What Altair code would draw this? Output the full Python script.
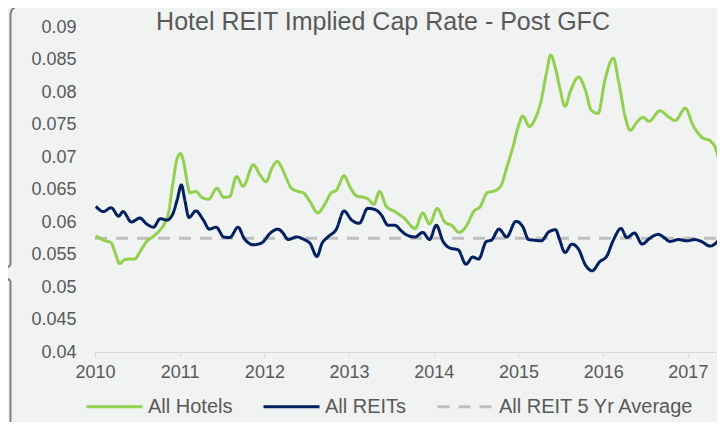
import altair as alt
import pandas as pd

# ---- data ----
hotel_t = [2010.01, 2010.10, 2010.19, 2010.24, 2010.29, 2010.35, 2010.41, 2010.47, 2010.53, 2010.61,
           2010.69, 2010.75, 2010.81, 2010.87, 2010.92, 2010.97, 2011.01, 2011.05, 2011.09, 2011.12,
           2011.19, 2011.26, 2011.34, 2011.44, 2011.52, 2011.59, 2011.67, 2011.75, 2011.87, 2011.95,
           2012.02, 2012.09, 2012.15, 2012.20, 2012.26, 2012.32, 2012.40, 2012.46, 2012.54, 2012.63,
           2012.72, 2012.79, 2012.85, 2012.94, 2013.01, 2013.09, 2013.17, 2013.23, 2013.29, 2013.36,
           2013.44, 2013.54, 2013.65, 2013.78, 2013.87, 2013.95, 2014.04, 2014.13, 2014.21, 2014.30,
           2014.39, 2014.47, 2014.55, 2014.63, 2014.72, 2014.79, 2014.86, 2014.94, 2015.00, 2015.05,
           2015.13, 2015.19, 2015.26, 2015.33, 2015.38, 2015.43, 2015.49, 2015.55, 2015.61, 2015.71,
           2015.79, 2015.86, 2015.94, 2016.02, 2016.12, 2016.18, 2016.26, 2016.32, 2016.40, 2016.47,
           2016.54, 2016.67, 2016.77, 2016.85, 2016.97, 2017.06, 2017.16, 2017.27, 2017.32, 2017.37,
           2017.40, 2017.44]
hotel_v = [0.0579, 0.0572, 0.0568, 0.0552, 0.0536, 0.0542, 0.0543, 0.0543, 0.0554, 0.0570,
           0.0578, 0.0585, 0.0595, 0.0616, 0.0660, 0.0698, 0.0705, 0.0690, 0.0660, 0.0645,
           0.0647, 0.0638, 0.0635, 0.0652, 0.0638, 0.0639, 0.0670, 0.0655, 0.0688, 0.0672,
           0.0662, 0.0683, 0.0693, 0.0685, 0.0667, 0.0652, 0.0647, 0.0645, 0.0631, 0.0614,
           0.0629, 0.0645, 0.0649, 0.0671, 0.0654, 0.0640, 0.0638, 0.0635, 0.0627, 0.0647,
           0.0624, 0.0616, 0.0606, 0.0590, 0.0614, 0.0597, 0.0621, 0.0600, 0.0595, 0.0584,
           0.0595, 0.0616, 0.0624, 0.0645, 0.0648, 0.0655, 0.0683, 0.0718, 0.0748, 0.0763,
           0.0747, 0.0757, 0.0783, 0.0829, 0.0857, 0.0840, 0.0805, 0.0778, 0.0800, 0.0823,
           0.0803, 0.0772, 0.0767, 0.0818, 0.0852, 0.0818, 0.0762, 0.0741, 0.0754, 0.0761,
           0.0755, 0.0771, 0.0762, 0.0756, 0.0775, 0.0749, 0.0731, 0.0724, 0.0716, 0.0698,
           0.0711, 0.0749]

reit_t = [2010.01, 2010.10, 2010.19, 2010.28, 2010.33, 2010.43, 2010.53, 2010.61, 2010.69, 2010.77,
          2010.85, 2010.92, 2010.97, 2011.02, 2011.06, 2011.11, 2011.19, 2011.28, 2011.35, 2011.43,
          2011.52, 2011.59, 2011.69, 2011.76, 2011.87, 2011.97, 2012.07, 2012.16, 2012.22, 2012.28,
          2012.38, 2012.47, 2012.54, 2012.62, 2012.68, 2012.75, 2012.85, 2012.94, 2013.03, 2013.12,
          2013.22, 2013.31, 2013.38, 2013.46, 2013.54, 2013.62, 2013.68, 2013.78, 2013.87, 2013.95,
          2014.03, 2014.11, 2014.19, 2014.29, 2014.38, 2014.46, 2014.53, 2014.62, 2014.68, 2014.77,
          2014.86, 2014.97, 2015.05, 2015.12, 2015.19, 2015.27, 2015.36, 2015.44, 2015.48, 2015.55,
          2015.63, 2015.71, 2015.79, 2015.87, 2015.96, 2016.04, 2016.12, 2016.21, 2016.28, 2016.37,
          2016.46, 2016.55, 2016.65, 2016.71, 2016.79, 2016.89, 2016.99, 2017.08, 2017.16, 2017.26,
          2017.36, 2017.43]
reit_v = [0.0624, 0.0616, 0.0622, 0.0609, 0.0616, 0.0600, 0.0606, 0.0597, 0.0592, 0.0605,
          0.0603, 0.0613, 0.0634, 0.0657, 0.0634, 0.0607, 0.0617, 0.0603, 0.0589, 0.0592,
          0.0577, 0.0576, 0.0592, 0.0575, 0.0565, 0.0568, 0.0583, 0.0589, 0.0583, 0.0573,
          0.0577, 0.0573, 0.0567, 0.0547, 0.0567, 0.0577, 0.0589, 0.0617, 0.0603, 0.0598,
          0.0621, 0.0619, 0.0611, 0.0595, 0.0595, 0.0586, 0.0580, 0.0577, 0.0584, 0.0573,
          0.0595, 0.0570, 0.0560, 0.0557, 0.0535, 0.0546, 0.0543, 0.0570, 0.0572, 0.0589,
          0.0577, 0.0601, 0.0593, 0.0573, 0.0572, 0.0571, 0.0585, 0.0588, 0.0575, 0.0553,
          0.0566, 0.0558, 0.0534, 0.0525, 0.0539, 0.0547, 0.0572, 0.0590, 0.0576, 0.0583,
          0.0566, 0.0575, 0.0581, 0.0577, 0.0570, 0.0573, 0.0571, 0.0573, 0.0570, 0.0563,
          0.0572, 0.0598]

avg_t = [2010.0, 2017.5]
avg_v = [0.0575, 0.0575]

series_names = ["All Hotels", "All REITs", "All REIT 5 Yr Average"]
series_colors = ["#92D050", "#002060", "#BFBFBF"]
series_dash = [[1, 0], [1, 0], [12, 9]]

x_ticks = [2010, 2011, 2012, 2013, 2014, 2015, 2016, 2017]
y_ticks = [0.04, 0.045, 0.05, 0.055, 0.06, 0.065, 0.07, 0.075, 0.08, 0.085, 0.09]

title_text = "Hotel REIT Implied Cap Rate - Post GFC"

FONT = "Liberation Sans"
TXT = "#595959"

rows = []
for t, v in zip(avg_t, avg_v):
    rows.append({"t": t, "v": v, "series": series_names[2], "o": 0})
for t, v in zip(hotel_t, hotel_v):
    rows.append({"t": t, "v": v, "series": series_names[0], "o": 1})
for t, v in zip(reit_t, reit_v):
    rows.append({"t": t, "v": v, "series": series_names[1], "o": 2})
df = pd.DataFrame(rows)

leg = alt.Legend(title=None, orient="none", legendX=-10, legendY=350, direction="horizontal",
                 symbolType="stroke", symbolSize=3136, symbolStrokeWidth=3,
                 labelFont=FONT, labelFontSize=20, labelColor=TXT, labelOffset=4,
                 labelLimit=400, columnPadding=24)

lines = alt.Chart(df).mark_line(strokeWidth=3, interpolate="monotone", clip=True).encode(
    x=alt.X("t:Q", scale=alt.Scale(domain=[2010, 2017.344], nice=False, zero=False),
            axis=alt.Axis(values=x_ticks, format="d", grid=False, title=None,
                          domainColor="#D9D9D9", tickColor="#D9D9D9", tickSize=5,
                          labelPadding=6, labelFont=FONT, labelFontSize=18, labelColor=TXT,
                          labelFlush=False)),
    y=alt.Y("v:Q", scale=alt.Scale(domain=[0.04, 0.09], nice=False, zero=False),
            axis=alt.Axis(values=y_ticks, format=".3~f", grid=False, title=None,
                          domain=False, ticks=False, tickSize=0, labelPadding=19,
                          labelFont=FONT, labelFontSize=18, labelColor=TXT)),
    color=alt.Color("series:N", scale=alt.Scale(domain=series_names, range=series_colors), legend=leg),
    strokeDash=alt.StrokeDash("series:N", scale=alt.Scale(domain=series_names, range=series_dash), legend=leg),
    order=alt.Order("o:Q"),
)

one = alt.Data(values=[{}])

title = alt.Chart(one).mark_text(text=title_text, font=FONT, fontSize=25, color=TXT,
                                 align="center", baseline="alphabetic").encode(
    x=alt.value(288), y=alt.value(3))

# decorative brace at the left edge (pixel offsets relative to the plot)
BR = "#7F7F7F"
def seg(x1, y1, x2, y2):
    return alt.Chart(one).mark_rule(color=BR, strokeWidth=2).encode(
        x=alt.value(x1), y=alt.value(y1), x2=alt.value(x2), y2=alt.value(y2))

brace = [
    seg(-56, -20.5, -80, -20),
    seg(-80, -20, -83.5, -17),
    seg(-83.5, -17, -84.5, -13),
    seg(-84.5, -13, -84.5, 238),
    seg(-84.5, 238, -94, 246),
    seg(-94, 246, -84.5, 254),
    seg(-84.5, 254, -84.5, 400),
]

chart = alt.layer(lines, title, *brace).properties(
    width=622, height=325,
    autosize=alt.AutoSizeParams(type="none"),
    padding={"left": 87, "top": 19, "right": 0, "bottom": 70},
).configure(background="#F1F2F2").configure_view(stroke=None)

chart.save("out.html", embed_options={"renderer": "svg", "actions": False})
